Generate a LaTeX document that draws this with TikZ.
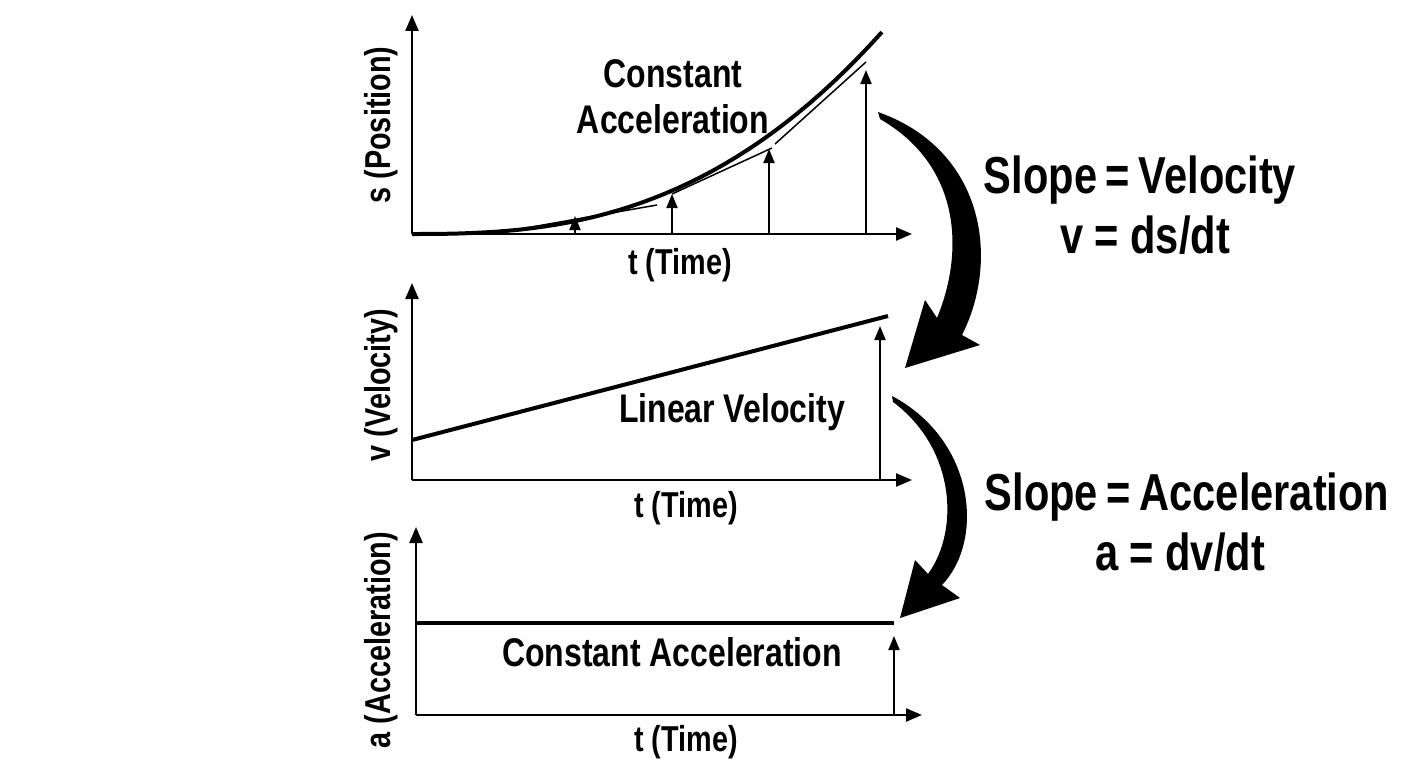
\documentclass[tikz,border=0pt]{standalone}
\usepackage{fontspec}
\setmainfont{Liberation Sans}[FakeStretch=0.8]
\usetikzlibrary{arrows.meta}
\begin{document}
\begin{tikzpicture}[x=1pt,y=-1pt]
\tikzstyle{axis}=[line width=2.4pt,-{Triangle[length=16pt,width=13pt]}]
\tikzstyle{up}=[line width=2pt,-{Triangle[length=14pt,width=11pt]}]
\tikzstyle{plot}=[line width=4pt]
\tikzstyle{lbl}=[font=\fontsize{36}{38}\selectfont\bfseries]
\tikzstyle{inner}=[font=\fontsize{40}{46}\selectfont\bfseries]
\tikzstyle{big}=[font=\fontsize{52}{56}\selectfont\bfseries]
\useasboundingbox (0,0) rectangle (1408,768);
% position
\coordinate (so) at (412,234);
\coordinate (sy) at (412,15);
\coordinate (sx) at (912,234);
\draw[axis] (so) -- (sy);
\draw[axis] (so) -- (sx);
\draw[plot] plot[domain=0:1,samples=40] ({412+470*\x},{234-202*(\x)^2.6});
\draw[line width=1.5pt] (520,229) -- (657,205);
\draw[line width=1.5pt] (672,194) -- (772,148);
\draw[line width=1.5pt] (775,144) -- (866,62);
\foreach \x/\y in {575/216,672/194,769/149,866/70}
  \draw[up] (\x,234) -- (\x,\y);
\node[inner,align=center] (sname) at (673,97) {Constant\\Acceleration};
\node[lbl] (st) at (680,265) {t (Time)};
\node[lbl,rotate=90] (sl) at (381,125) {s (Position)};
% velocity
\coordinate (vo) at (412,480);
\coordinate (vy) at (412,283);
\coordinate (vx) at (912,480);
\draw[axis] (vo) -- (vy);
\draw[axis] (vo) -- (vx);
\draw[plot] (412,440) -- (888,316);
\draw[up] (880,480) -- (880,326);
\node[inner] (vname) at (732,412) {Linear Velocity};
\node[lbl] (vt) at (686,508) {t (Time)};
\node[lbl,rotate=90] (vl) at (381,385) {v (Velocity)};
% acceleration
\coordinate (ao) at (416,715);
\coordinate (ay) at (416,527);
\coordinate (ax) at (922,715);
\draw[axis] (ao) -- (ay);
\draw[axis] (ao) -- (ax);
\draw[plot] (416,623) -- (894,623);
\draw[up] (894,715) -- (894,636);
\node[inner] (aname) at (672,652) {Constant Acceleration};
\node[lbl] (at) at (686,742) {t (Time)};
\node[lbl,rotate=90] (al) at (381,640) {a (Acceleration)};
% slope arrows
\fill (878,112) .. controls (985,150) and (1000,260) .. (962,335) -- (980,345) -- (905,368)
  -- (925,300) -- (937,318) .. controls (965,250) and (960,165) .. (880,119) -- cycle;
\fill (892,396) .. controls (975,440) and (985,540) .. (942,585) -- (960,598) -- (900,618)
  -- (915,560) -- (928,574) .. controls (960,530) and (955,448) .. (893,402) -- cycle;
\node[big] (v1) at (1140,180) {Slope\,=\,Velocity};
\node[big] (v2) at (1145,235) {v = ds/dt};
\node[big] (a1) at (1187,497) {Slope\,=\,Acceleration};
\node[big] (a2) at (1180,552) {a = dv/dt};
\end{tikzpicture}
\end{document}
